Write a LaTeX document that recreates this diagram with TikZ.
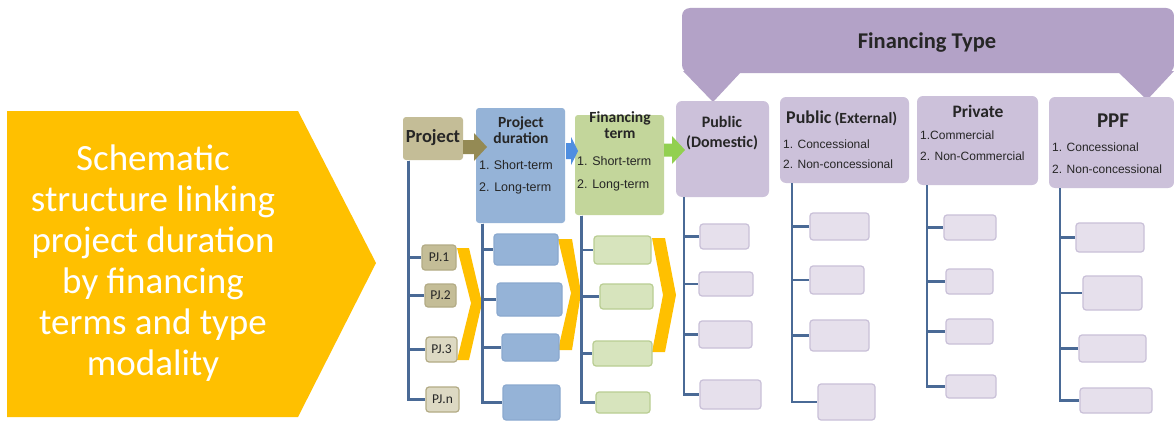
\documentclass[tikz,border=0pt]{standalone}
\usepackage{fontspec}
\setmainfont{Carlito}
\newfontfamily\arialf{Liberation Sans}
\definecolor{gold}{HTML}{FFC000}
\definecolor{banner}{HTML}{B3A2C7}
\definecolor{hdr}{HTML}{CCC1DA}
\definecolor{lav}{HTML}{E6E0EC}
\definecolor{lavb}{HTML}{C9C0D8}
\definecolor{tan}{HTML}{C4BD97}
\definecolor{tanl}{HTML}{DDD9C3}
\definecolor{tanb}{HTML}{B3AB85}
\definecolor{olive}{HTML}{948A54}
\definecolor{blu}{HTML}{95B3D7}
\definecolor{blub}{HTML}{8BA9CF}
\definecolor{grn}{HTML}{C3D69B}
\definecolor{grnl}{HTML}{D7E4BD}
\definecolor{grnb}{HTML}{B9CD92}
\definecolor{trunkc}{HTML}{4A6A96}
\definecolor{arrb}{HTML}{4F8EE0}
\definecolor{arrg}{HTML}{92D050}
\definecolor{txt}{HTML}{262626}
\tikzset{
  bx/.style={rounded corners=3pt, line width=1.2pt, inner sep=0pt},
  lbox/.style={bx, fill=lav, draw=lavb},
  bbox/.style={bx, fill=blu, draw=blub},
  gbox/.style={bx, fill=grnl, draw=grnb},
  pjd/.style={bx, fill=tan, draw=tanb, text=txt, font=\fontsize{13.5}{14}\selectfont},
  pjl/.style={bx, fill=tanl, draw=tanb, text=txt, font=\fontsize{13.5}{14}\selectfont},
  hbox/.style={rounded corners=6pt, fill=hdr, inner sep=0pt},
  conn/.style={draw=trunkc, line width=2.4pt},
  ttl/.style={text=txt, font=\bfseries\fontsize{14}{16}\selectfont, inner sep=0pt, align=center},
  itm/.style={text=txt, font=\arialf\fontsize{12}{13}\selectfont, inner sep=0pt, anchor=west},
}
\begin{document}
\begin{tikzpicture}[x=1pt,y=-1pt]
\useasboundingbox (0,0) rectangle (1174,420);
\fill[white] (0,0) rectangle (1174,420);

% left pentagon
\fill[gold] (7,111) -- (298,111) -- (376,263) -- (298,417) -- (7,417) -- cycle;
\node[text=white, align=center, font=\fontsize{37}{41}\selectfont] (lead) at (153,263)
  {Schematic\\structure linking\\project duration\\by financing\\terms and type\\modality};

% banner
\fill[banner] (683,71) -- (713,102) -- (742,71) -- cycle;
\fill[banner] (1117,71) -- (1147,100) -- (1174,71) -- cycle;
\fill[banner, rounded corners=8pt] (682,8) rectangle (1174,73);
\node[text=txt, font=\bfseries\fontsize{22.5}{24}\selectfont] (ftype) at (927,43) {Financing Type};

% headers
\node[hbox, minimum width=93, minimum height=96] (hd) at (722.5,149) {};
\node[hbox, minimum width=129, minimum height=86] (he) at (844.5,140) {};
\node[hbox, minimum width=121, minimum height=89] (hp) at (977.5,140.5) {};
\node[hbox, minimum width=125, minimum height=91] (hf) at (1111.5,142.5) {};

\node[ttl, font=\bfseries\fontsize{16}{20}\selectfont] (hdt) at (722,133) {Public\\(Domestic)};
\node[ttl, anchor=west] (het) at (786,118) {{\fontsize{18}{18}\selectfont Public} {\fontsize{15.5}{18}\selectfont(External)}};
\node[itm] (he1) at (783,144) {1. Concessional};
\node[itm] (he2) at (783,164) {2. Non-concessional};
\node[ttl, font=\bfseries\fontsize{17.5}{18}\selectfont] (hpt) at (978,111) {Private};
\node[itm] (hp1) at (920,135) {1.Commercial};
\node[itm] (hp2) at (920,156) {2. Non-Commercial};
\node[ttl, font=\bfseries\fontsize{21}{22}\selectfont] (hft) at (1113,121) {PPF};
\node[itm] (hf1) at (1052,147) {1. Concessional};
\node[itm] (hf2) at (1052,169) {2. Non-concessional};

% small lavender boxes
\node[lbox, minimum width=49, minimum height=25] (d1) at (724.5,236.5) {};
\node[lbox, minimum width=54, minimum height=24] (d2) at (726,284) {};
\node[lbox, minimum width=53, minimum height=27] (d3) at (725.5,334.5) {};
\node[lbox, minimum width=61, minimum height=29] (d4) at (730.5,394.5) {};
\node[lbox, minimum width=59, minimum height=27] (e1) at (839.5,226.5) {};
\node[lbox, minimum width=54, minimum height=28] (e2) at (837,280) {};
\node[lbox, minimum width=59, minimum height=31] (e3) at (839.5,335.5) {};
\node[lbox, minimum width=57, minimum height=36] (e4) at (846.5,402) {};
\node[lbox, minimum width=52, minimum height=25] (p1) at (970,227.5) {};
\node[lbox, minimum width=47, minimum height=25] (p2) at (969.5,281.5) {};
\node[lbox, minimum width=47, minimum height=25] (p3) at (969.5,331.5) {};
\node[lbox, minimum width=50, minimum height=23] (p4) at (971,386.5) {};
\node[lbox, minimum width=68, minimum height=29] (f1) at (1110,237.5) {};
\node[lbox, minimum width=59, minimum height=34] (f2) at (1112.5,293) {};
\node[lbox, minimum width=67, minimum height=27] (f3) at (1112.5,348.5) {};
\node[lbox, minimum width=72, minimum height=25] (f4) at (1116,400.5) {};

\foreach \c in {d1,d2,d3,d4} \draw[conn] ([xshift=8pt]hd.south west) |- (\c.west);
\foreach \c in {e1,e2,e3,e4} \draw[conn] ([xshift=12pt]he.south west) |- (\c.west);
\foreach \c in {p1,p2,p3,p4} \draw[conn] ([xshift=10pt]hp.south west) |- (\c.west);
\foreach \c in {f1,f2,f3,f4} \draw[conn] ([xshift=11pt]hf.south west) |- (\c.west);

% left columns
\node[bx, fill=tan, minimum width=60, minimum height=43] (proj) at (433,138.5) {};
\node[ttl, font=\bfseries\fontsize{18.5}{19}\selectfont] (projt) at (433,138) {Project};
\node[bx, fill=blu, minimum width=89, minimum height=115] (dur) at (520.5,165.5) {};
\node[ttl, font=\bfseries\fontsize{15.5}{16}\selectfont] (durt) at (521,130) {Project\\duration};
\node[itm, font=\arialf\fontsize{12.5}{13}\selectfont] (dur1) at (479,165) {1.\,\,Short-term};
\node[itm, font=\arialf\fontsize{12.5}{13}\selectfont] (dur2) at (479,188) {2. Long-term};
\node[bx, fill=grn, minimum width=89, minimum height=100] (term) at (619.5,165) {};
\node[ttl, font=\bfseries\fontsize{15.5}{16}\selectfont] (termt) at (620,125.5) {Financing\\term};
\node[itm, font=\arialf\fontsize{12.5}{13}\selectfont] (term1) at (577,161) {1. Short-term};
\node[itm, font=\arialf\fontsize{12.5}{13}\selectfont] (term2) at (577,185) {2. Long-term};

% arrows between headers
\fill[olive] (463,140) -- (474,140) -- (474,133) -- (487,147) -- (474,161) -- (474,154) -- (463,154) -- cycle;
\fill[arrb] (566,143) -- (571,143) -- (571,137) -- (578,151) -- (571,165) -- (571,159) -- (566,159) -- cycle;
\fill[arrg] (664,143.5) -- (672,143.5) -- (672,136) -- (685,150) -- (672,164) -- (672,156.5) -- (664,156.5) -- cycle;

% chevrons
\fill[gold] (457,248) -- (469,248) -- (482,303) -- (469,360) -- (457,360) -- (471,303) -- cycle;
\fill[gold] (558,239) -- (572,239) -- (581,293) -- (572,350) -- (558,350) -- (571,293) -- cycle;
\fill[gold] (652,238) -- (665,238) -- (676,295) -- (665,352) -- (652,352) -- (663,295) -- cycle;

\node[pjd, minimum width=34, minimum height=25] (pj1) at (439,257.5) {PJ.1};
\node[pjd, minimum width=31, minimum height=23] (pj2) at (440.5,295.5) {PJ.2};
\node[pjl, minimum width=31, minimum height=25] (pj3) at (441.5,349.5) {PJ.3};
\node[pjl, minimum width=33, minimum height=25] (pjn) at (442.5,399.5) {PJ.n};

\node[bbox, minimum width=64, minimum height=31] (b1) at (526,249.5) {};
\node[bbox, minimum width=65, minimum height=33] (b2) at (529.5,299.5) {};
\node[bbox, minimum width=57, minimum height=27] (b3) at (530.5,347.5) {};
\node[bbox, minimum width=57, minimum height=35] (b4) at (531.5,402.5) {};
\node[gbox, minimum width=57, minimum height=28] (g1) at (622.5,250) {};
\node[gbox, minimum width=53, minimum height=25] (g2) at (626.5,296.5) {};
\node[gbox, minimum width=59, minimum height=25] (g3) at (622.5,353.5) {};
\node[gbox, minimum width=54, minimum height=21] (g4) at (623,402.5) {};

\foreach \c in {pj1,pj2,pj3,pjn} \draw[conn] ([xshift=6pt]proj.south west) |- (\c.west);
\foreach \c in {b1,b2,b3,b4} \draw[conn] ([xshift=7pt]dur.south west) |- (\c.west);
\foreach \c in {g1,g2,g3,g4} \draw[conn] ([xshift=7pt]term.south west) |- (\c.west);
\end{tikzpicture}
\end{document}
